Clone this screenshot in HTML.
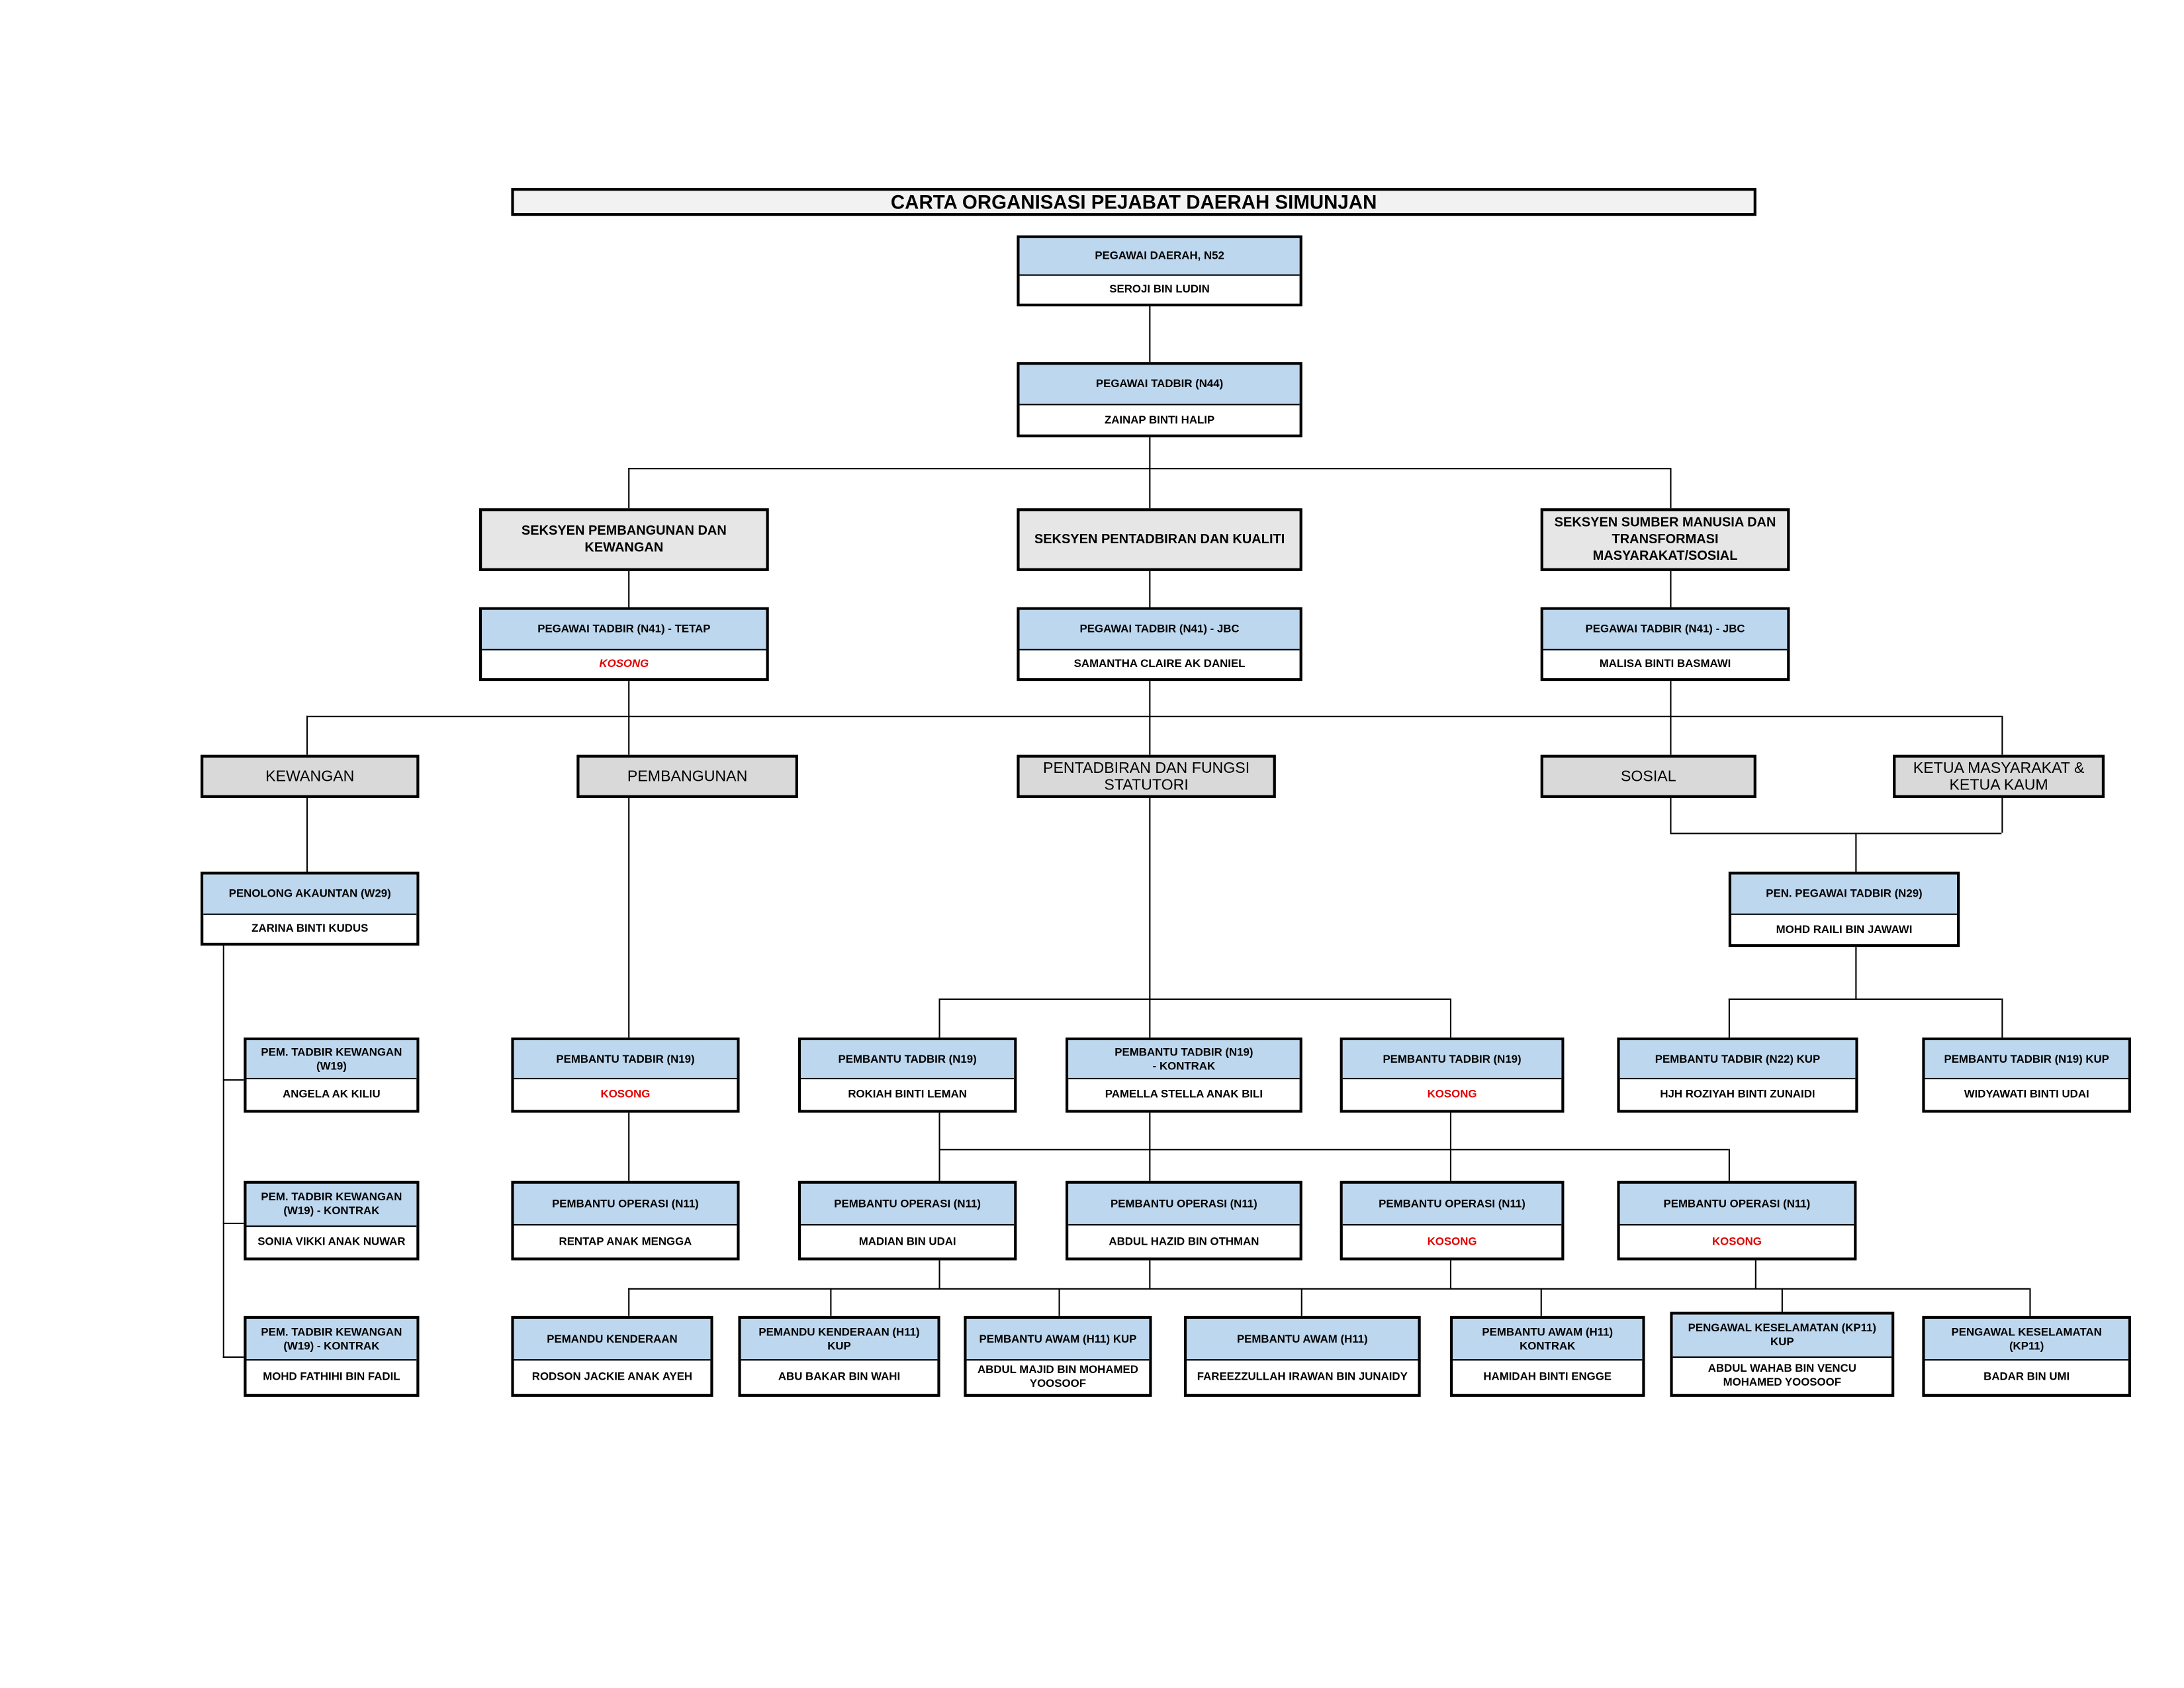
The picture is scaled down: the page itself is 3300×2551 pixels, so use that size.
<!DOCTYPE html>
<html><head><meta charset="utf-8"><style>
html,body{margin:0;padding:0;background:#fff;}
body{width:3300px;height:2550px;overflow:hidden;position:relative;}
#w{position:absolute;left:0;top:0;width:1568px;height:1212px;transform:scale(2.1046);transform-origin:0 0;font-family:"Liberation Sans",Arial,sans-serif;}
.b{position:absolute;box-sizing:border-box;border:2px solid #000;display:flex;flex-direction:column;background:#fff;}
.h{background:#bdd7ee;border-bottom:1px solid #000;display:flex;align-items:center;justify-content:center;text-align:center;font-weight:bold;font-size:8px;line-height:10px;box-sizing:border-box;}
.n{flex:1;display:flex;align-items:center;justify-content:center;text-align:center;font-weight:bold;font-size:8px;line-height:10px;}
.r{color:#e00000;}
.s{position:absolute;box-sizing:border-box;border:2px solid #000;background:#e6e6e6;display:flex;align-items:center;justify-content:center;text-align:center;font-weight:bold;font-size:9.5px;line-height:12px;}
.c{position:absolute;box-sizing:border-box;border:2px solid #000;background:#d9d9d9;display:flex;align-items:center;justify-content:center;text-align:center;font-size:11px;line-height:12px;}
.v{position:absolute;width:1px;background:#000;}
.l{position:absolute;height:1px;background:#000;}
</style></head><body><div id="w">
<div style="position:absolute;left:367px;top:135px;width:894px;height:20px;box-sizing:border-box;border:2px solid #000;background:#f2f2f2;text-align:center;font-weight:bold;font-size:14px;line-height:16px;">CARTA ORGANISASI PEJABAT DAERAH SIMUNJAN</div>

<!-- lines -->
<div class="v" style="left:825px;top:219px;height:41px"></div>
<div class="v" style="left:825px;top:313px;height:52px"></div>
<div class="l" style="left:451px;top:336px;width:748px"></div>
<div class="v" style="left:451px;top:336px;height:29px"></div>
<div class="v" style="left:1199px;top:336px;height:29px"></div>
<div class="v" style="left:451px;top:409px;height:27px"></div>
<div class="v" style="left:825px;top:409px;height:27px"></div>
<div class="v" style="left:1199px;top:409px;height:27px"></div>
<div class="l" style="left:220px;top:514px;width:1217px"></div>
<div class="v" style="left:451px;top:488px;height:54px"></div>
<div class="v" style="left:825px;top:488px;height:54px"></div>
<div class="v" style="left:1199px;top:488px;height:54px"></div>
<div class="v" style="left:220px;top:514px;height:28px"></div>
<div class="v" style="left:1437px;top:514px;height:28px"></div>
<div class="v" style="left:220px;top:572px;height:54px"></div>
<div class="v" style="left:1199px;top:572px;height:26px"></div>
<div class="v" style="left:1437px;top:572px;height:26px"></div>
<div class="l" style="left:1199px;top:598px;width:238px"></div>
<div class="v" style="left:1332px;top:598px;height:28px"></div>
<div class="v" style="left:160px;top:678px;height:297px"></div>
<div class="l" style="left:160px;top:775px;width:15px"></div>
<div class="l" style="left:160px;top:878px;width:15px"></div>
<div class="l" style="left:160px;top:974px;width:15px"></div>
<div class="v" style="left:451px;top:572px;height:173px"></div>
<div class="v" style="left:451px;top:798px;height:50px"></div>
<div class="v" style="left:825px;top:572px;height:173px"></div>
<div class="l" style="left:674px;top:717px;width:367px"></div>
<div class="v" style="left:674px;top:717px;height:28px"></div>
<div class="v" style="left:1041px;top:717px;height:28px"></div>
<div class="v" style="left:1332px;top:679px;height:38px"></div>
<div class="l" style="left:1241px;top:717px;width:196px"></div>
<div class="v" style="left:1241px;top:717px;height:28px"></div>
<div class="v" style="left:1437px;top:717px;height:28px"></div>
<div class="l" style="left:674px;top:825px;width:567px"></div>
<div class="v" style="left:674px;top:798px;height:50px"></div>
<div class="v" style="left:825px;top:798px;height:50px"></div>
<div class="v" style="left:1041px;top:798px;height:50px"></div>
<div class="v" style="left:1241px;top:825px;height:23px"></div>
<div class="l" style="left:451px;top:925px;width:1006px"></div>
<div class="v" style="left:674px;top:904px;height:21px"></div>
<div class="v" style="left:825px;top:904px;height:21px"></div>
<div class="v" style="left:1041px;top:904px;height:21px"></div>
<div class="v" style="left:1260px;top:904px;height:21px"></div>
<div class="v" style="left:451px;top:925px;height:20px"></div>
<div class="v" style="left:596px;top:925px;height:20px"></div>
<div class="v" style="left:760px;top:925px;height:20px"></div>
<div class="v" style="left:934px;top:925px;height:20px"></div>
<div class="v" style="left:1106px;top:925px;height:20px"></div>
<div class="v" style="left:1279px;top:925px;height:17px"></div>
<div class="v" style="left:1457px;top:925px;height:20px"></div>

<!-- top -->
<div class="b" style="left:730px;top:169px;width:205px;height:51px"><div class="h" style="height:27px">PEGAWAI DAERAH, N52</div><div class="n">SEROJI BIN LUDIN</div></div>
<div class="b" style="left:730px;top:260px;width:205px;height:54px"><div class="h" style="height:29px">PEGAWAI TADBIR (N44)</div><div class="n">ZAINAP BINTI HALIP</div></div>

<div class="s" style="left:344px;top:365px;width:208px;height:45px">SEKSYEN PEMBANGUNAN DAN<br>KEWANGAN</div>
<div class="s" style="left:730px;top:365px;width:205px;height:45px">SEKSYEN PENTADBIRAN DAN KUALITI</div>
<div class="s" style="left:1106px;top:365px;width:179px;height:45px">SEKSYEN SUMBER MANUSIA DAN<br>TRANSFORMASI<br>MASYARAKAT/SOSIAL</div>

<div class="b" style="left:344px;top:436px;width:208px;height:53px"><div class="h" style="height:29px">PEGAWAI TADBIR (N41) - TETAP</div><div class="n r" style="font-style:italic">KOSONG</div></div>
<div class="b" style="left:730px;top:436px;width:205px;height:53px"><div class="h" style="height:29px">PEGAWAI TADBIR (N41) - JBC</div><div class="n">SAMANTHA CLAIRE AK DANIEL</div></div>
<div class="b" style="left:1106px;top:436px;width:179px;height:53px"><div class="h" style="height:29px">PEGAWAI TADBIR (N41) - JBC</div><div class="n">MALISA BINTI BASMAWI</div></div>

<div class="c" style="left:144px;top:542px;width:157px;height:31px">KEWANGAN</div>
<div class="c" style="left:414px;top:542px;width:159px;height:31px">PEMBANGUNAN</div>
<div class="c" style="left:730px;top:542px;width:186px;height:31px">PENTADBIRAN DAN FUNGSI<br>STATUTORI</div>
<div class="c" style="left:1106px;top:542px;width:155px;height:31px">SOSIAL</div>
<div class="c" style="left:1359px;top:542px;width:152px;height:31px">KETUA MASYARAKAT &amp;<br>KETUA KAUM</div>

<div class="b" style="left:144px;top:626px;width:157px;height:53px"><div class="h" style="height:29px">PENOLONG AKAUNTAN (W29)</div><div class="n">ZARINA BINTI KUDUS</div></div>
<div class="b" style="left:1241px;top:626px;width:166px;height:54px"><div class="h" style="height:29px">PEN. PEGAWAI TADBIR (N29)</div><div class="n">MOHD RAILI BIN JAWAWI</div></div>

<div class="b" style="left:175px;top:745px;width:126px;height:54px"><div class="h" style="height:28px">PEM. TADBIR KEWANGAN<br>(W19)</div><div class="n">ANGELA AK KILIU</div></div>
<div class="b" style="left:175px;top:848px;width:126px;height:57px"><div class="h" style="height:31px">PEM. TADBIR KEWANGAN<br>(W19) - KONTRAK</div><div class="n">SONIA VIKKI ANAK NUWAR</div></div>
<div class="b" style="left:175px;top:945px;width:126px;height:58px"><div class="h" style="height:30px">PEM. TADBIR KEWANGAN<br>(W19) - KONTRAK</div><div class="n">MOHD FATHIHI BIN FADIL</div></div>

<div class="b" style="left:367px;top:745px;width:164px;height:54px"><div class="h" style="height:28px">PEMBANTU TADBIR (N19)</div><div class="n r">KOSONG</div></div>
<div class="b" style="left:573px;top:745px;width:157px;height:54px"><div class="h" style="height:28px">PEMBANTU TADBIR (N19)</div><div class="n">ROKIAH BINTI LEMAN</div></div>
<div class="b" style="left:765px;top:745px;width:170px;height:54px"><div class="h" style="height:28px">PEMBANTU TADBIR (N19)<br>- KONTRAK</div><div class="n">PAMELLA STELLA ANAK BILI</div></div>
<div class="b" style="left:962px;top:745px;width:161px;height:54px"><div class="h" style="height:28px">PEMBANTU TADBIR (N19)</div><div class="n r">KOSONG</div></div>
<div class="b" style="left:1161px;top:745px;width:173px;height:54px"><div class="h" style="height:28px">PEMBANTU TADBIR (N22) KUP</div><div class="n">HJH ROZIYAH BINTI ZUNAIDI</div></div>
<div class="b" style="left:1380px;top:745px;width:150px;height:54px"><div class="h" style="height:28px">PEMBANTU TADBIR (N19) KUP</div><div class="n">WIDYAWATI BINTI UDAI</div></div>

<div class="b" style="left:367px;top:848px;width:164px;height:57px"><div class="h" style="height:30px">PEMBANTU OPERASI (N11)</div><div class="n">RENTAP ANAK MENGGA</div></div>
<div class="b" style="left:573px;top:848px;width:157px;height:57px"><div class="h" style="height:30px">PEMBANTU OPERASI (N11)</div><div class="n">MADIAN BIN UDAI</div></div>
<div class="b" style="left:765px;top:848px;width:170px;height:57px"><div class="h" style="height:30px">PEMBANTU OPERASI (N11)</div><div class="n">ABDUL HAZID BIN OTHMAN</div></div>
<div class="b" style="left:962px;top:848px;width:161px;height:57px"><div class="h" style="height:30px">PEMBANTU OPERASI (N11)</div><div class="n r">KOSONG</div></div>
<div class="b" style="left:1161px;top:848px;width:172px;height:57px"><div class="h" style="height:30px">PEMBANTU OPERASI (N11)</div><div class="n r">KOSONG</div></div>

<div class="b" style="left:367px;top:945px;width:145px;height:58px"><div class="h" style="height:30px">PEMANDU KENDERAAN</div><div class="n">RODSON JACKIE ANAK AYEH</div></div>
<div class="b" style="left:530px;top:945px;width:145px;height:58px"><div class="h" style="height:30px">PEMANDU KENDERAAN (H11)<br>KUP</div><div class="n">ABU BAKAR BIN WAHI</div></div>
<div class="b" style="left:692px;top:945px;width:135px;height:58px"><div class="h" style="height:30px">PEMBANTU AWAM (H11) KUP</div><div class="n">ABDUL MAJID BIN MOHAMED<br>YOOSOOF</div></div>
<div class="b" style="left:850px;top:945px;width:170px;height:58px"><div class="h" style="height:30px">PEMBANTU AWAM (H11)</div><div class="n">FAREEZZULLAH IRAWAN BIN JUNAIDY</div></div>
<div class="b" style="left:1041px;top:945px;width:140px;height:58px"><div class="h" style="height:30px">PEMBANTU AWAM (H11)<br>KONTRAK</div><div class="n">HAMIDAH BINTI ENGGE</div></div>
<div class="b" style="left:1199px;top:942px;width:161px;height:61px"><div class="h" style="height:31px">PENGAWAL KESELAMATAN (KP11)<br>KUP</div><div class="n">ABDUL WAHAB BIN VENCU<br>MOHAMED YOOSOOF</div></div>
<div class="b" style="left:1380px;top:945px;width:150px;height:58px"><div class="h" style="height:30px">PENGAWAL KESELAMATAN<br>(KP11)</div><div class="n">BADAR BIN UMI</div></div>
</div></body></html>
